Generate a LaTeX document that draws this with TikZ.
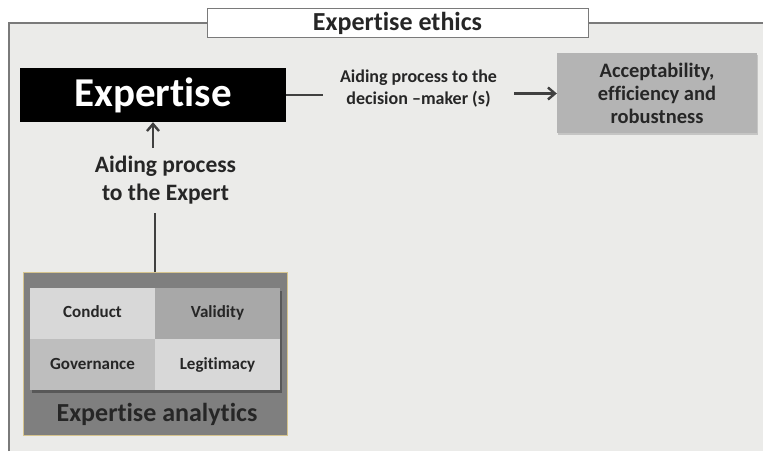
\documentclass[tikz,border=0pt]{standalone}
\usepackage{fontspec}
\setmainfont{Carlito}[Ligatures=NoCommon]
\usetikzlibrary{shadows,arrows.meta}
\definecolor{bgpanel}{HTML}{EBEBE9}
\definecolor{framegray}{HTML}{7A7A7A}
\definecolor{linegray}{HTML}{404040}
\definecolor{inkgray}{HTML}{262626}
\definecolor{accgray}{HTML}{B4B4B4}
\definecolor{anagray}{HTML}{7F7F7F}
\definecolor{anaedge}{HTML}{D6C48E}
\definecolor{celllight}{HTML}{D8D8D8}
\definecolor{cellmid}{HTML}{BEBEBE}
\definecolor{celldark}{HTML}{A8A8A8}
\begin{document}
\begin{tikzpicture}[x=1pt,y=-1pt,
  font=\bfseries, text=inkgray,
  conn/.style={draw=linegray, line width=2.6pt},
  tip/.style={-{Straight Barb[length=7pt,width=12pt,line width=2.4pt]}},
  cell/.style={minimum width=125pt, minimum height=51pt, inner sep=0pt, text height=12pt, text depth=3pt,
    font=\bfseries\fontsize{17}{17}\selectfont}]
\useasboundingbox (0,0) rectangle (763,454);
\fill[white] (0,0) rectangle (763,454);
\fill[bgpanel] (9,23) rectangle (763,451);
\draw[framegray, line width=1.5pt] (9,451) -- (9,23) -- (763,23);
\node[draw=framegray, fill=white, line width=1pt, minimum width=381pt, minimum height=29pt, inner sep=0pt,
  font=\bfseries\fontsize{26}{26}\selectfont] (ethics) at (397.5,23.5) {Expertise ethics};
\node[fill=black, text=white, minimum width=266pt, minimum height=54pt, inner sep=0pt,
  font=\bfseries\fontsize{41}{41}\selectfont] (expertise) at (153,95) {Expertise};
\node[align=center, inner xsep=17pt, inner ysep=0pt, font=\bfseries\fontsize{18}{22}\selectfont] (decision) at (418.5,89) {Aiding process to the\\decision --maker (s)};
\node[fill=accgray, drop shadow={opacity=0.35, shadow xshift=1pt, shadow yshift=-2pt}, minimum width=200pt, minimum height=80pt, inner sep=0pt, align=center,
  font=\bfseries\fontsize{20.5}{23}\selectfont] (accept) at (657,93.5) {Acceptability,\\efficiency and\\robustness};
\node[align=center, inner xsep=0pt, inner ysep=8pt, font=\bfseries\fontsize{23.5}{28}\selectfont] (helper) at (165.5,180.5) {Aiding process\\to the Expert};
\node[fill=anagray, draw=anaedge, line width=1pt, minimum width=264pt, minimum height=162pt, inner sep=0pt] (analytics) at (155,354) {};
\node[font=\bfseries\fontsize{26}{26}\selectfont] (anatitle) at (157,414) {Expertise analytics};
% shadow behind the four cells
\fill[black, opacity=0.3] (32,291) rectangle (282,392.5);
\node[cell, fill=celllight] (conduct) at (92.5,313.5) {Conduct};
\node[cell, fill=celldark] (validity) at (217.5,313.5) {Validity};
\node[cell, fill=cellmid] (governance) at (92.5,364.5) {Governance};
\node[cell, fill=celllight] (legitimacy) at (217.5,364.5) {Legitimacy};
\draw[conn] (expertise.east) -- (decision.west |- expertise.east);
\draw[conn, tip] (decision.east |- accept.west) -- (accept.west);
\draw[conn, tip] (helper.north -| expertise.south) -- (expertise.south);
\draw[conn] (analytics.north) -- (analytics.north |- helper.south);
\end{tikzpicture}
\end{document}
